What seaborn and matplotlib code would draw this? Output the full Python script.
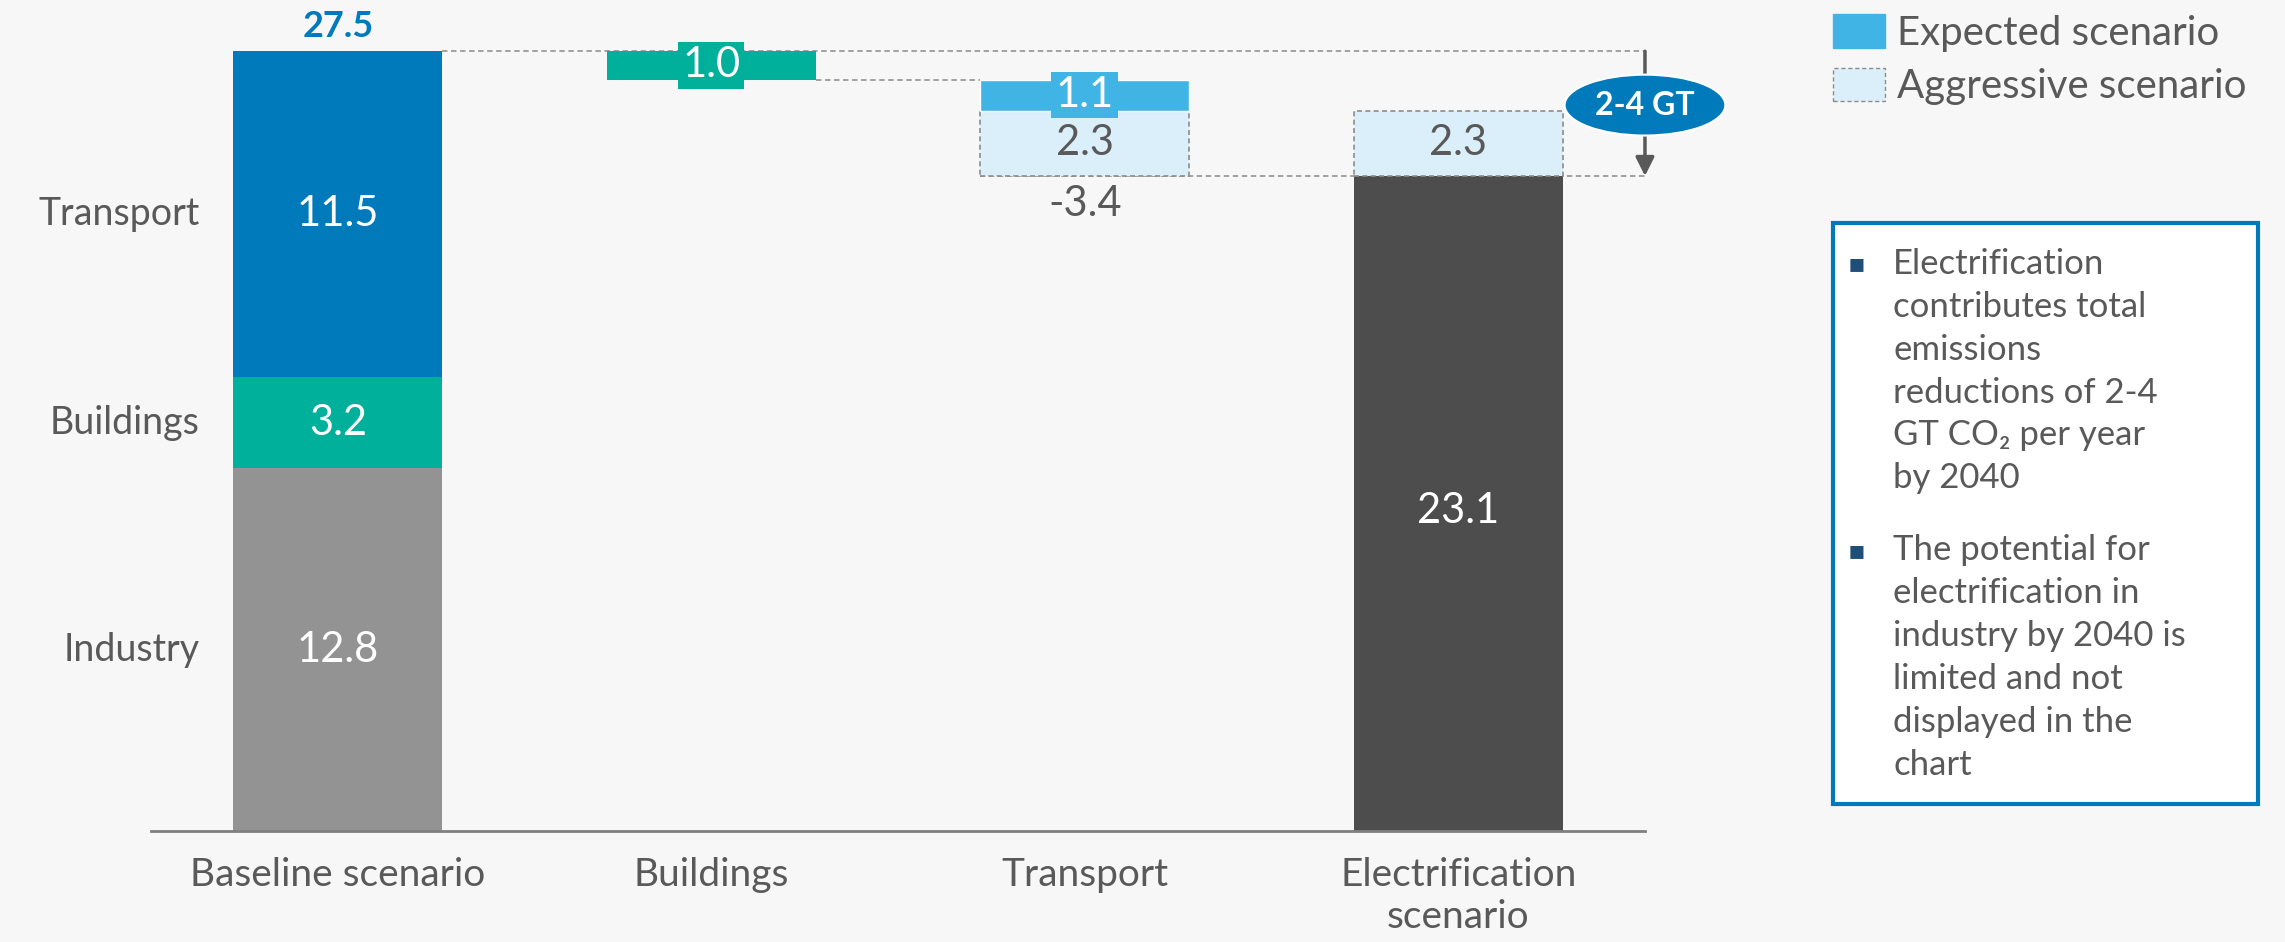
import matplotlib
matplotlib.use("Agg")
import matplotlib.pyplot as plt
from matplotlib.patches import Patch, Rectangle
import seaborn as sns

CATEGORIES = ["Baseline scenario", "Buildings", "Transport", "Electrification\nscenario"]
SECTORS = ["Industry", "Buildings", "Transport"]
SECTOR_VALUES = [12.8, 3.2, 11.5]
BASELINE_TOTAL = 27.5
BUILDINGS_CUT = 1.0
TRANSPORT_EXPECTED = 1.1
TRANSPORT_AGGRESSIVE = 2.3
TRANSPORT_TOTAL = -3.4
ELECTRIFICATION = 23.1
ELECTRIFICATION_RANGE = 2.3
RANGE_LABEL = "2-4 GT"
LEGEND_LABELS = ["Expected scenario", "Aggressive scenario"]
NOTES = [
    "Electrification\ncontributes total\nemissions\nreductions of 2-4\nGT CO\u2082 per year\nby 2040",
    "The potential for\nelectrification in\nindustry by 2040 is\nlimited and not\ndisplayed in the\nchart",
]

SECTOR_COLORS = ["#939393", "#00B09B", "#007ABA"]
EXPECTED_COLOR = "#41B4E6"
AGGRESSIVE_COLOR = "#DAEFFA"
DARK = "#4D4D4D"
TEXT = "#595959"
BLUE = "#007ABA"
BG = "#F7F7F7"
WIDTH = 0.56
FONT = ["Lato", "DejaVu Sans"]
VAL_SIZE = 30


def bar(ax, cat, height, bottom, color, **kw):
    sns.barplot(x=[cat], y=[height], order=CATEGORIES, ax=ax, color=color,
                saturation=1, width=WIDTH, errorbar=None, bottom=bottom, **kw)


def main():
    sns.set_style("white")
    plt.rcParams["font.family"] = FONT

    fig = plt.figure(figsize=(22.85, 9.42), dpi=100, facecolor=BG)
    ax = fig.add_axes([0.0661, 0.1178, 0.6538, 0.882])
    ax.set_facecolor(BG)

    # baseline stack
    bottom = 0.0
    for sector, val, col in zip(SECTORS, SECTOR_VALUES, SECTOR_COLORS):
        bar(ax, CATEGORIES[0], val, bottom, col, linewidth=0)
        ax.text(0, bottom + val / 2, f"{val:.1f}", ha="center", va="center",
                color="white", fontsize=VAL_SIZE)
        ax.text(-0.37, bottom + val / 2, sector, ha="right", va="center",
                color=TEXT, fontsize=27)
        bottom += val
    ax.text(0, BASELINE_TOTAL + 0.3, f"{BASELINE_TOTAL:.1f}", ha="center", va="bottom",
            color=BLUE, fontsize=26, fontweight="bold")

    # buildings step
    b_top = BASELINE_TOTAL
    b_bot = b_top - BUILDINGS_CUT
    bar(ax, CATEGORIES[1], BUILDINGS_CUT, b_bot, SECTOR_COLORS[1], linewidth=0)
    ax.text(1, b_bot + BUILDINGS_CUT / 2, f"{BUILDINGS_CUT:.1f}", ha="center", va="center",
            color="white", fontsize=VAL_SIZE,
            bbox=dict(boxstyle="square,pad=0.1", fc=SECTOR_COLORS[1], ec="none"))

    # transport step
    t_exp_bot = b_bot - TRANSPORT_EXPECTED
    t_agg_bot = t_exp_bot - TRANSPORT_AGGRESSIVE
    bar(ax, CATEGORIES[2], TRANSPORT_AGGRESSIVE, t_agg_bot, AGGRESSIVE_COLOR,
        edgecolor="#8C8C8C", linestyle=(0, (3, 2)), linewidth=1.2)
    bar(ax, CATEGORIES[2], TRANSPORT_EXPECTED, t_exp_bot, EXPECTED_COLOR,
        edgecolor="white", linewidth=1)
    ax.text(2, t_exp_bot + TRANSPORT_EXPECTED / 2, f"{TRANSPORT_EXPECTED:.1f}",
            ha="center", va="center", color="white", fontsize=VAL_SIZE,
            bbox=dict(boxstyle="square,pad=0.1", fc=EXPECTED_COLOR, ec="none"))
    ax.text(2, t_agg_bot + TRANSPORT_AGGRESSIVE / 2, f"{TRANSPORT_AGGRESSIVE:.1f}",
            ha="center", va="center", color=TEXT, fontsize=VAL_SIZE)
    ax.text(2, t_agg_bot - 0.3, f"{TRANSPORT_TOTAL:.1f}", ha="center", va="top",
            color=TEXT, fontsize=VAL_SIZE)

    # electrification scenario
    bar(ax, CATEGORIES[3], ELECTRIFICATION, 0, DARK, linewidth=0)
    bar(ax, CATEGORIES[3], ELECTRIFICATION_RANGE, ELECTRIFICATION, AGGRESSIVE_COLOR,
        edgecolor="#8C8C8C", linestyle=(0, (3, 2)), linewidth=1.2)
    ax.text(3, ELECTRIFICATION / 2 - 0.25, f"{ELECTRIFICATION:.1f}", ha="center", va="center",
            color="white", fontsize=VAL_SIZE)
    ax.text(3, ELECTRIFICATION + ELECTRIFICATION_RANGE / 2, f"{ELECTRIFICATION_RANGE:.1f}",
            ha="center", va="center", color=TEXT, fontsize=VAL_SIZE)

    # connectors
    half = WIDTH / 2
    dash = dict(color="#9A9A9A", lw=1.3, ls=(0, (3, 2)), zorder=0.5, clip_on=False)
    ax.plot([half, 3.5], [BASELINE_TOTAL] * 2, **dash)
    ax.plot([1 + half, 2 - half], [b_bot] * 2, **dash)
    ax.plot([2 - half, 3.5], [t_agg_bot] * 2, **dash)

    # range arrow + badge
    ax.annotate("", xy=(3.5, t_agg_bot), xytext=(3.5, BASELINE_TOTAL),
                arrowprops=dict(arrowstyle="-|>", color=TEXT, lw=2.5, mutation_scale=28,
                                shrinkA=0, shrinkB=0), annotation_clip=False)
    ax.text(3.5, 25.6, RANGE_LABEL, ha="center", va="center", color="white",
            fontsize=23, fontweight="bold", zorder=5,
            bbox=dict(boxstyle="ellipse,pad=0.22", fc=BLUE, ec="white", lw=1.5))

    ax.set_xlim(-0.5, 3.5)
    ax.set_ylim(0, 29.3)
    ax.set_yticks([])
    ax.set_xlabel("")
    ax.set_ylabel("")
    for side in ["left", "right", "top"]:
        ax.spines[side].set_visible(False)
    ax.spines["bottom"].set_color("#808080")
    ax.spines["bottom"].set_linewidth(2)
    ax.tick_params(axis="x", length=0, pad=19, labelsize=28, labelcolor=TEXT)

    # legend
    handles = [
        Patch(facecolor=EXPECTED_COLOR, edgecolor=EXPECTED_COLOR),
        Patch(facecolor=AGGRESSIVE_COLOR, edgecolor="#8C8C8C", linestyle=(0, (3, 2))),
    ]
    fig.legend(handles, LEGEND_LABELS, loc="upper left", bbox_to_anchor=(0.802, 0.985),
               frameon=False, fontsize=29, labelcolor=TEXT, handlelength=1.3,
               handleheight=0.9, handletextpad=0.3, labelspacing=0.4,
               borderpad=0, borderaxespad=0)

    # notes box
    fig.patches.append(Rectangle((0.8022, 0.1465), 0.186, 0.6168, transform=fig.transFigure,
                                 facecolor="white", edgecolor=BLUE, lw=3, zorder=0))
    for note, top in zip(NOTES, [0.737, 0.433]):
        fig.text(0.8085, top - 0.004, "\u25aa", ha="left", va="top", color="#1F4E79",
                 fontsize=19, family=["DejaVu Sans"])
        fig.text(0.8285, top, note, ha="left", va="top", color=TEXT, fontsize=25,
                 linespacing=1.42)

    fig.savefig("out.png", dpi=100, facecolor=BG)
    plt.close(fig)


if __name__ == "__main__":
    main()
